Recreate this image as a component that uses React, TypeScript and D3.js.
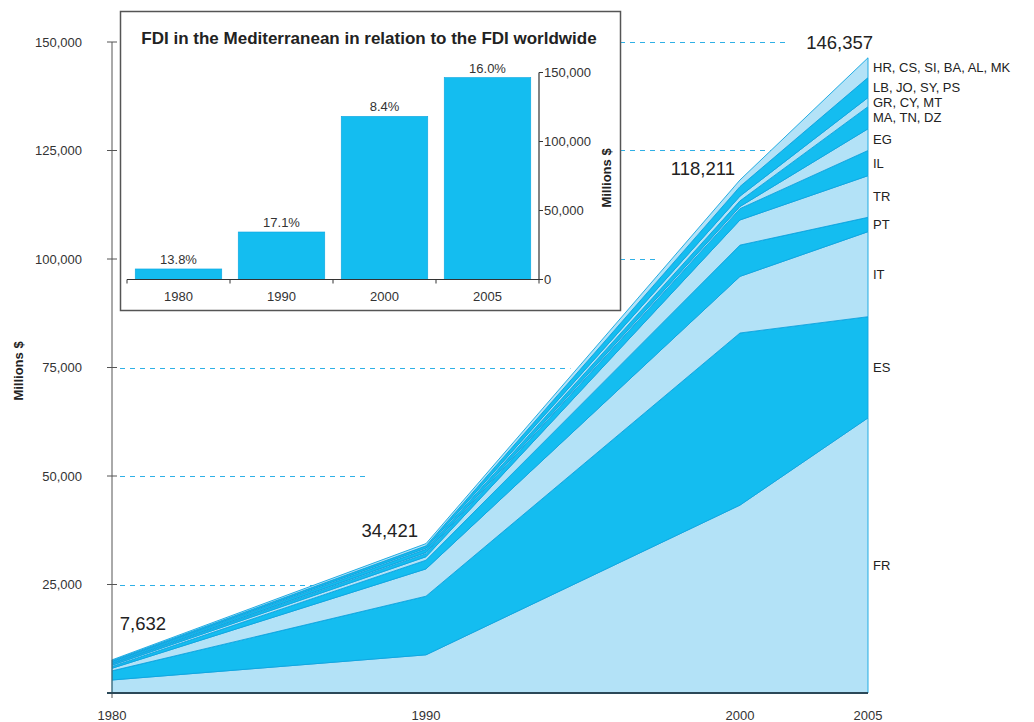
import React, { useRef, useEffect } from 'react';
import * as d3 from 'd3';

// ---------------- data ----------------
const years = [1980, 1990, 2000, 2005];
const groups = ['FR', 'ES', 'IT', 'PT', 'TR', 'IL', 'EG', 'MA, TN, DZ', 'GR, CY, MT', 'LB, JO, SY, PS', 'HR, CS, SI, BA, AL, MK'];
const fr = [3000, 8800, 43300, 63400];
const es = [2100, 13500, 39650, 23300];
const it = [600, 6300, 13050, 19600];
const pt = [400, 2000, 7200, 3300];
const tr = [300, 800, 5800, 9600];
const il = [250, 700, 2600, 5800];
const eg = [150, 300, 500, 5000];
const ma = [300, 700, 1300, 5100];
const gr = [150, 300, 1100, 2100];
const lb = [200, 500, 2200, 4600];
const hr = [182, 521, 1511, 4557];
const totals = [7632, 34421, 118211, 146357];
const worldShare = ['13.8%', '17.1%', '8.4%', '16.0%'];
const yTicks = [0, 25000, 50000, 75000, 100000, 125000, 150000];
const insetTicks = [0, 50000, 100000, 150000];
const title = 'FDI in the Mediterranean in relation to the FDI worldwide';

const series = [fr, es, it, pt, tr, il, eg, ma, gr, lb, hr];

export default function App() {
  const ref = useRef<SVGSVGElement>(null);
  const width = 1034;
  const height = 722;

  useEffect(() => {
    const svg = d3.select(ref.current);
    svg.selectAll('*').remove();

    const light = '#b3e2f7';
    const dark = '#14bdf0';
    const edge = '#0ea5e0';
    const txt = '#333';
    const fmt = d3.format(',');

    //------------- scales -------------//
    const x = d3.scaleLinear().domain([1980, 2000, 2005]).range([112, 740, 868]);
    const y = d3.scaleLinear().domain([0, 150000]).range([693, 42]);

    const table = years.map((yr, i) => {
      const row: any = { year: yr };
      groups.forEach((g, k) => (row[g] = series[k][i]));
      return row;
    });
    const stacked = d3.stack().keys(groups)(table);

    //------------- dashed guides -------------//
    const gridEnd = [1987.8, 1988.1, 1994.6, 1997.4, 2001.2, 2001.9];
    svg.append('g')
      .selectAll('line')
      .data(yTicks.slice(1))
      .join('line')
      .attr('x1', x(1980) + 8)
      .attr('x2', (d, i) => x(gridEnd[i]))
      .attr('y1', d => Math.round(y(d)) + 0.5)
      .attr('y2', d => Math.round(y(d)) + 0.5)
      .attr('stroke', '#2fb0e6')
      .attr('stroke-width', 1)
      .attr('stroke-dasharray', '5,5');

    //------------- stacked areas -------------//
    const area = d3.area<any>()
      .x(d => x(d.data.year))
      .y0(d => y(d[0]))
      .y1(d => y(d[1]));

    svg.append('g')
      .selectAll('path')
      .data(stacked)
      .join('path')
      .attr('d', area)
      .attr('fill', (d, i) => (i % 2 === 0 ? light : dark))
      .attr('stroke', edge)
      .attr('stroke-width', 0.9)
      .attr('stroke-linejoin', 'round');

    //------------- axes -------------//
    const ax = svg.append('g');
    ax.append('line')
      .attr('x1', x(1980)).attr('x2', x(1980))
      .attr('y1', y(150000)).attr('y2', y(0) + 5)
      .attr('stroke', '#555').attr('stroke-width', 1);
    ax.selectAll('.tk')
      .data(yTicks)
      .join('line')
      .attr('x1', x(1980) - 5).attr('x2', d => (d === 0 ? x(1980) : x(1980) + 5))
      .attr('y1', d => y(d)).attr('y2', d => y(d))
      .attr('stroke', '#555');
    ax.selectAll('.tl')
      .data(yTicks.slice(1))
      .join('text')
      .attr('x', x(1980) - 30)
      .attr('y', d => y(d))
      .attr('dy', '0.36em')
      .attr('text-anchor', 'end')
      .style('font-size', '13px')
      .attr('fill', txt)
      .text(d => fmt(d));
    ax.append('line')
      .attr('x1', x(1980) - 5).attr('x2', x(2005))
      .attr('y1', y(0)).attr('y2', y(0))
      .attr('stroke', '#2b4858').attr('stroke-width', 2);
    ax.selectAll('.xl')
      .data(years)
      .join('text')
      .attr('x', d => x(d))
      .attr('y', 720)
      .attr('text-anchor', 'middle')
      .style('font-size', '13px')
      .attr('fill', txt)
      .text(d => d);
    ax.append('text')
      .attr('transform', 'translate(23,371) rotate(-90)')
      .attr('text-anchor', 'middle')
      .style('font-size', '13px')
      .style('font-weight', 'bold')
      .attr('fill', '#222')
      .text('Millions $');

    //------------- totals -------------//
    const labelDx = [54, -8, -5, 5];
    const labelDy = [30, 7, 5, 9];
    svg.append('g')
      .selectAll('text')
      .data(totals)
      .join('text')
      .attr('x', (d, i) => x(years[i]) + labelDx[i])
      .attr('y', (d, i) => y(d) - labelDy[i])
      .attr('text-anchor', 'end')
      .style('font-size', '18.5px')
      .attr('fill', '#222')
      .text(d => fmt(d));

    //------------- group labels -------------//
    const last = years.length - 1;
    svg.append('g')
      .selectAll('text')
      .data(stacked)
      .join('text')
      .attr('x', x(2005) + 5)
      .attr('y', (d, i) => y((d[last][0] + d[last][1]) / 2) + (i === 0 ? 10 : 0))
      .attr('dy', '0.36em')
      .style('font-size', '13px')
      .attr('fill', '#222')
      .text(d => d.key);

    //------------- inset -------------//
    const inset = svg.append('g');
    inset.append('rect')
      .attr('x', 120.5).attr('y', 11.5)
      .attr('width', 500).attr('height', 299)
      .attr('fill', 'white')
      .attr('stroke', '#555')
      .attr('stroke-width', 1.5);
    inset.append('text')
      .attr('x', 369).attr('y', 44)
      .attr('text-anchor', 'middle')
      .style('font-size', '17px')
      .style('font-weight', 'bold')
      .attr('fill', '#222')
      .text(title);

    const bx = d3.scaleBand<number>().domain(years).range([127, 539]).paddingInner(0.16).paddingOuter(0.08);
    const by = d3.scaleLinear().domain([0, 150000]).range([279.5, 72.5]);

    inset.selectAll('.bar')
      .data(totals)
      .join('rect')
      .attr('x', (d, i) => bx(years[i])!)
      .attr('y', d => by(d))
      .attr('width', bx.bandwidth())
      .attr('height', d => by(0) - by(d))
      .attr('fill', dark)
      .attr('stroke', edge)
      .attr('stroke-width', 0.6);
    inset.selectAll('.pct')
      .data(worldShare)
      .join('text')
      .attr('x', (d, i) => bx(years[i])! + bx.bandwidth() / 2)
      .attr('y', (d, i) => by(totals[i]) - 5)
      .attr('text-anchor', 'middle')
      .style('font-size', '13px')
      .attr('fill', txt)
      .text(d => d);

    inset.append('line')
      .attr('x1', 127).attr('x2', 539)
      .attr('y1', by(0)).attr('y2', by(0))
      .attr('stroke', '#333').attr('stroke-width', 1.2);
    inset.selectAll('.btk')
      .data(d3.range(years.length + 1))
      .join('line')
      .attr('x1', i => 127 + i * bx.step())
      .attr('x2', i => 127 + i * bx.step())
      .attr('y1', by(0)).attr('y2', by(0) + 4)
      .attr('stroke', '#333');
    inset.selectAll('.yr')
      .data(years)
      .join('text')
      .attr('x', d => bx(d)! + bx.bandwidth() / 2)
      .attr('y', 301)
      .attr('text-anchor', 'middle')
      .style('font-size', '13px')
      .attr('fill', txt)
      .text(d => d);

    inset.append('line')
      .attr('x1', 539).attr('x2', 539)
      .attr('y1', by(150000)).attr('y2', by(0))
      .attr('stroke', '#333').attr('stroke-width', 1.2);
    inset.selectAll('.rtk')
      .data(insetTicks)
      .join('line')
      .attr('x1', 539).attr('x2', 543)
      .attr('y1', d => by(d)).attr('y2', d => by(d))
      .attr('stroke', '#333');
    inset.selectAll('.rtl')
      .data(insetTicks)
      .join('text')
      .attr('x', 544)
      .attr('y', d => by(d))
      .attr('dy', '0.36em')
      .style('font-size', '13px')
      .attr('fill', txt)
      .text(d => fmt(d));
    inset.append('text')
      .attr('transform', 'translate(611,178) rotate(-90)')
      .attr('text-anchor', 'middle')
      .style('font-size', '13px')
      .style('font-weight', 'bold')
      .attr('fill', '#222')
      .text('Millions $');
  }, []);

  return (
    <svg
      ref={ref}
      width={width}
      height={height}
      style={{ position: 'absolute', left: 0, top: 0, background: 'white', fontFamily: '"Liberation Sans", Arial, sans-serif' }}
    />
  );
}
